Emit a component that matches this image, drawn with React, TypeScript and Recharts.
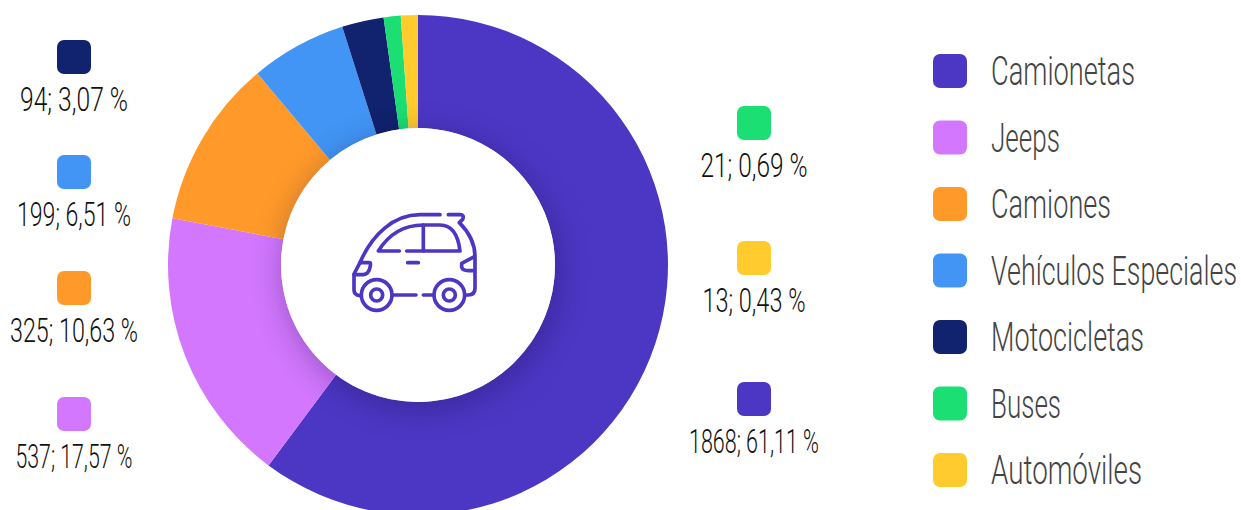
import React from 'react';
import { PieChart, Pie, Cell, Legend } from 'recharts';

// Parque automotor por tipo de vehiculo
const categories = ['Camionetas', 'Jeeps', 'Camiones', 'Vehículos Especiales', 'Motocicletas', 'Buses', 'Automóviles'];
const counts = [1868, 537, 325, 199, 94, 21, 13];
const percents = ['61,11', '17,57', '10,63', '6,51', '3,07', '0,69', '0,43'];
// the ring in the picture is not drawn to the printed numbers, these are read off the slices (% of the circle)
const sliceShares = [60.2, 17.8, 10.9, 6.2, 2.7, 1.1, 1.1];
const colors = ['#4c37c4', '#d277fe', '#ff9a2a', '#4295f5', '#11226e', '#1bdf72', '#ffcb2d'];

const pieData = categories.map((name, i) => ({ name, value: sliceShares[i], fill: colors[i] }));

const FONT = 'Roboto, "Liberation Sans", sans-serif';
const CX = 418;
const CY = 265;

// the original font is a light condensed face that is not installed, so squeeze to the measured width
const FitText = ({ x, y, w, anchor, size, weight, color, children }: any) => (
  <text
    x={x}
    y={y}
    textAnchor={anchor}
    textLength={w}
    lengthAdjust="spacingAndGlyphs"
    fontFamily={FONT}
    fontWeight={weight}
    fontSize={size}
    fill={color}
  >
    {children}
  </text>
);

// index into the arrays, centre x, swatch top, text width
const labelSlots = [
  { i: 4, x: 74, y: 40, w: 108 },
  { i: 3, x: 74, y: 155, w: 114 },
  { i: 2, x: 74, y: 271, w: 128 },
  { i: 1, x: 74, y: 397, w: 117 },
  { i: 5, x: 754, y: 106, w: 107 },
  { i: 6, x: 754, y: 241, w: 103 },
  { i: 0, x: 754, y: 382, w: 130 },
];

const legendWidths = [144, 69, 120, 246, 153, 70, 151];

const ValueLabels = () => (
  <svg width={1241} height={510} style={{ position: 'absolute', left: 0, top: 0 }}>
    {labelSlots.map(({ i, x, y, w }) => (
      <g key={i}>
        <rect x={x - 17} y={y} width={34} height={34} rx={7} fill={colors[i]} />
        <FitText x={x} y={y + 71} w={w} anchor="middle" size={34} weight={300} color="#111111">
          {`${counts[i]}; ${percents[i]} %`}
        </FitText>
      </g>
    ))}
  </svg>
);

const SideLegend = () => (
  <svg width={1241} height={510} style={{ position: 'absolute', left: 0, top: 0 }}>
    {categories.map((name, i) => (
      <g key={name}>
        <rect x={933} y={54 + i * 66.5} width={34} height={34} rx={7} fill={colors[i]} />
        <FitText x={991} y={85 + i * 66.5} w={legendWidths[i]} anchor="start" size={40} weight={300} color="#444444">
          {name}
        </FitText>
      </g>
    ))}
  </svg>
);

const CarIcon = () => (
  <svg width={150} height={120} viewBox="0 0 450 360" style={{ position: 'absolute', left: 340 - (CX - 137), top: 200 - (CY - 137) }}>
    <g fill="none" stroke="#4c37c4" strokeWidth={11} strokeLinecap="round" strokeLinejoin="round">
      <path d="M300 44 H240 C160 44 95 105 60 188 L42 222 V270 Q42 285 60 287" />
      <path d="M60 188 H88 Q94 188 90 202 Q86 222 70 224 H42" />
      <circle cx={110} cy={285} r={46} />
      <circle cx={110} cy={285} r={18} />
      <circle cx={328} cy={285} r={46} />
      <circle cx={328} cy={285} r={18} />
      <path d="M160 285 H228 M250 285 H280" />
      <path d="M378 285 H385 Q405 285 405 265 V170 C405 130 390 100 358 68 L368 58 Q374 44 360 44 H325" />
      <path d="M403 170 L365 190 V202 Q368 212 385 212 H403" />
      <path d="M178 153 H115 C145 105 190 75 250 75 H300 C340 75 355 110 360 153 H200" />
      <path d="M250 75 V153" />
      <path d="M203 188 H235" />
    </g>
  </svg>
);

export default function App() {
  return (
    <div style={{ position: 'absolute', left: 0, top: 0, width: 1241, height: 510, overflow: 'hidden', background: '#fff' }}>
      <PieChart width={1241} height={510} margin={{ top: 0, right: 0, bottom: 0, left: 0 }}>
        <Pie
          data={pieData}
          dataKey="value"
          nameKey="name"
          cx={CX}
          cy={CY}
          innerRadius={137}
          outerRadius={250}
          startAngle={90}
          endAngle={-270}
          stroke="none"
          isAnimationActive={false}
        >
          {pieData.map((d) => (
            <Cell key={d.name} fill={d.fill} />
          ))}
        </Pie>
        <Legend content={<SideLegend />} wrapperStyle={{ position: 'absolute', left: 0, top: 0, width: 0, height: 0 }} />
      </PieChart>

      {/* centre hole with its soft shadow on the ring */}
      <div
        style={{
          position: 'absolute',
          left: CX - 137,
          top: CY - 137,
          width: 274,
          height: 274,
          borderRadius: '50%',
          background: '#fff',
          boxShadow: '3px 6px 32px rgba(20,5,60,0.32)',
        }}
      >
        <CarIcon />
      </div>

      <ValueLabels />
    </div>
  );
}
